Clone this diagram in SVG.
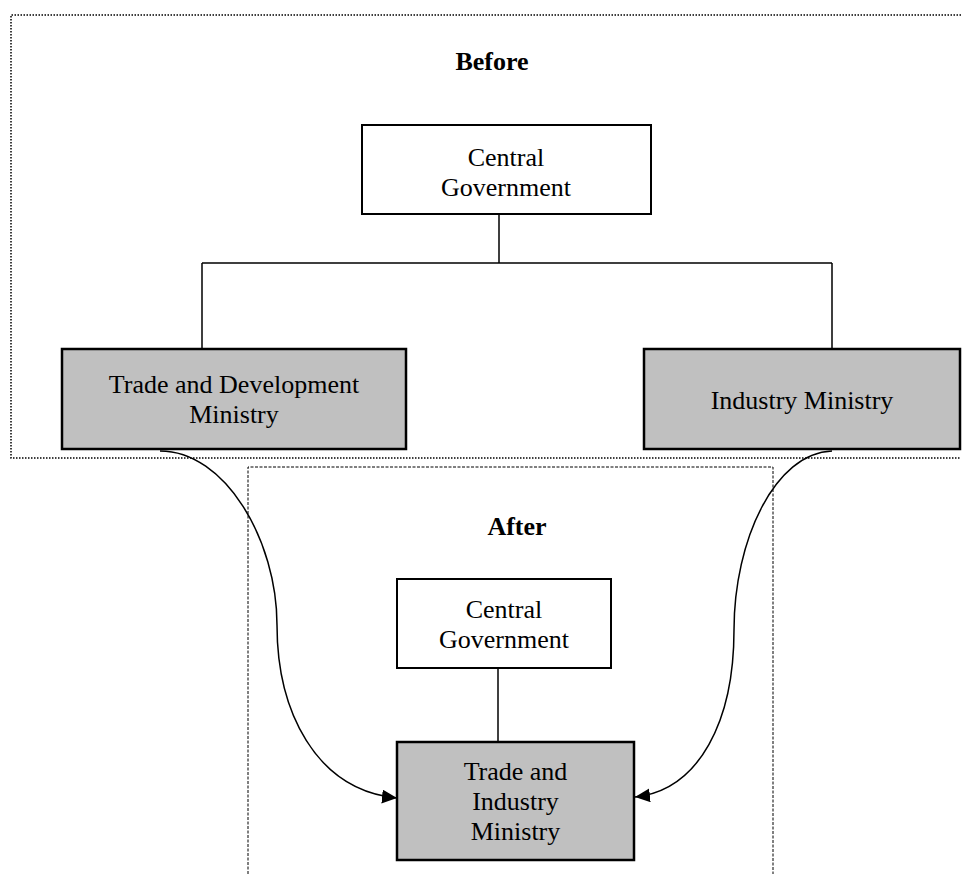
<svg xmlns="http://www.w3.org/2000/svg" width="962" height="874" viewBox="0 0 962 874">
<style>
text{font-family:"Liberation Serif","Times New Roman",serif;font-size:26px;fill:#000;text-anchor:middle}
.t{font-weight:bold}
.w{fill:#fff;stroke:#000;stroke-width:2}
.g{fill:#c0c0c0;stroke:#000;stroke-width:2.5}
.l{fill:none;stroke:#000;stroke-width:1.5}
</style>
<defs>
<marker id="ah" viewBox="0 0 15 14" refX="15" refY="7" markerWidth="15" markerHeight="14" markerUnits="userSpaceOnUse" orient="auto"><path d="M0,0 L15,7 L0,14 z" fill="#000"/></marker>
</defs>
<g id="before-frame">
<path d="M961,15 H11 V458 H961" fill="none" stroke="#000" stroke-width="1.5" stroke-dasharray="1.5,1.5"/>
<text class="t" x="492" y="70">Before</text>
</g>
<g id="after-frame">
<path d="M248,874 V467 H773 V874" fill="none" stroke="#000" stroke-width="1" stroke-dasharray="3,1.5"/>
<text class="t" x="517" y="535">After</text>
</g>
<g id="connectors">
<path class="l" d="M499,214 V263 M202,263 H832 M202,263 V349 M832,263 V349"/>
<path class="l" d="M498,668 V742"/>
<path class="l" d="M160,451 C225,451 277,540 277,625 C277,710 315,790 397,798" marker-end="url(#ah)"/>
<path class="l" d="M832,451 C775,453 734,540 734,630 C734,720 700,790 635,797" marker-end="url(#ah)"/>
</g>
<g id="central-before">
<rect class="w" x="362" y="125" width="289" height="89"/>
<text x="506" y="166">Central</text>
<text x="506" y="196">Government</text>
</g>
<g id="trade-dev">
<rect class="g" x="62" y="349" width="344" height="100"/>
<text x="234" y="393">Trade and Development</text>
<text x="234" y="423">Ministry</text>
</g>
<g id="industry">
<rect class="g" x="644" y="349" width="316" height="100"/>
<text x="802" y="409">Industry Ministry</text>
</g>
<g id="central-after">
<rect class="w" x="397" y="579" width="214" height="89"/>
<text x="504" y="618">Central</text>
<text x="504" y="648">Government</text>
</g>
<g id="trade-industry">
<rect class="g" x="397" y="742" width="237" height="118"/>
<text x="515.5" y="780">Trade and</text>
<text x="515.5" y="810">Industry</text>
<text x="515.5" y="840">Ministry</text>
</g>
</svg>
